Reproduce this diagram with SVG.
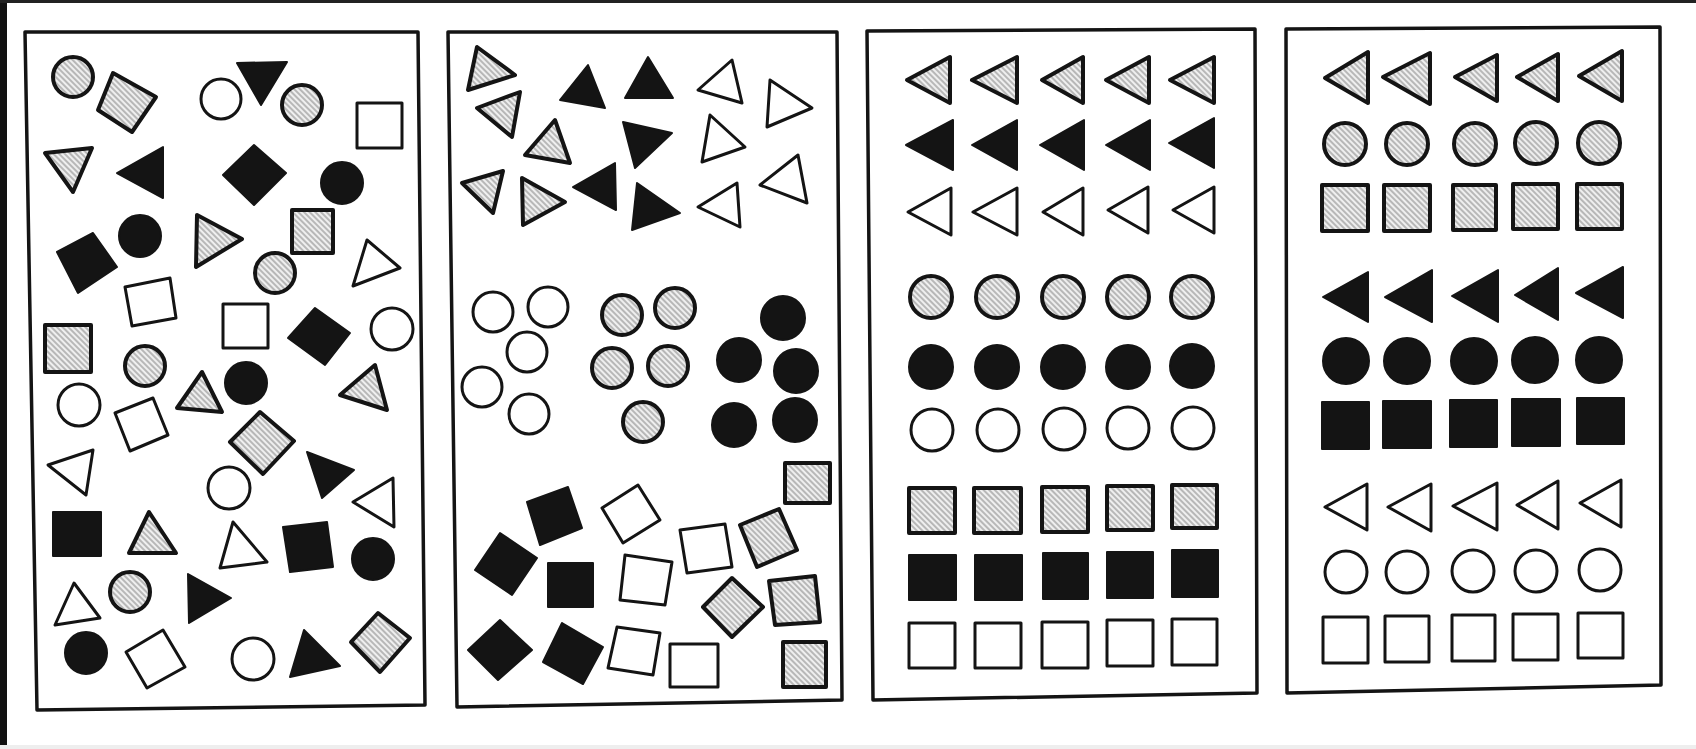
<svg xmlns="http://www.w3.org/2000/svg" width="1696" height="749" viewBox="0 0 1696 749">
<defs>
<pattern id="hp" width="4" height="4" patternUnits="userSpaceOnUse" patternTransform="rotate(-45)">
<rect width="4" height="4" fill="#efefef"/>
<line x1="1" y1="0" x2="1" y2="4" stroke="#9a9a9a" stroke-width="1.3"/>
</pattern>
</defs>
<style>
.h{fill:url(#hp);stroke:#141414;stroke-width:4;stroke-linejoin:round}
.b{fill:#141414;stroke:#141414;stroke-width:2;stroke-linejoin:round}
.o{fill:#fff;stroke:#141414;stroke-width:3;stroke-linejoin:round}
.frame{fill:none;stroke:#141414;stroke-width:3.5;stroke-linejoin:round}
</style>
<rect width="1696" height="749" fill="#fff"/>
<rect x="0" y="0" width="7" height="749" fill="#111"/>
<rect x="0" y="0" width="1696" height="3" fill="#222"/>
<rect x="0" y="745" width="1696" height="4" fill="#eee"/>

<g id="panel1">
<polygon class="frame" points="25,32 418,32 425,705 37,710"/>
<circle class="h" cx="73" cy="77" r="20"/>
<polygon class="h" points="113,73 156,97 132,132 98,110"/>
<circle class="o" cx="221" cy="99" r="20"/>
<polygon class="b" points="237,63 287,62 261,105"/>
<circle class="h" cx="302" cy="105" r="20"/>
<rect class="o" x="357" y="103" width="45" height="45"/>
<polygon class="h" points="45,153 92,148 73,192"/>
<polygon class="b" points="117,173 163,147 163,198"/>
<polygon class="b" points="254,145 286,173 254,205 223,175"/>
<circle class="b" cx="342" cy="183" r="21"/>
<circle class="b" cx="140" cy="236" r="21"/>
<polygon class="b" points="57,252 93,233 117,267 78,293"/>
<polygon class="h" points="197,215 242,239 196,267"/>
<rect class="h" x="292" y="210" width="41" height="43"/>
<circle class="h" cx="275" cy="273" r="20"/>
<polygon class="o" points="367,240 400,268 353,286"/>
<polygon class="o" points="125,287 170,278 176,318 132,326"/>
<rect class="o" x="223" y="304" width="45" height="44"/>
<polygon class="b" points="288,338 315,308 350,333 325,365"/>
<circle class="o" cx="392" cy="329" r="21"/>
<rect class="h" x="45" y="325" width="46" height="47"/>
<circle class="h" cx="145" cy="366" r="20"/>
<polygon class="h" points="202,372 222,412 177,408"/>
<circle class="b" cx="246" cy="383" r="21"/>
<polygon class="h" points="375,365 387,410 340,395"/>
<circle class="o" cx="79" cy="405" r="21"/>
<polygon class="o" points="115,413 153,398 168,435 130,451"/>
<polygon class="h" points="260,412 294,441 263,474 230,442"/>
<polygon class="o" points="48,465 93,450 86,495"/>
<polygon class="b" points="307,452 354,470 322,498"/>
<circle class="o" cx="229" cy="488" r="21"/>
<polygon class="o" points="353,502 393,478 394,527"/>
<rect class="b" x="53" y="512" width="48" height="44"/>
<polygon class="h" points="149,512 176,553 129,553"/>
<polygon class="o" points="233,522 267,562 220,568"/>
<polygon class="b" points="283,527 327,522 333,567 290,572"/>
<circle class="b" cx="373" cy="559" r="21"/>
<polygon class="o" points="74,583 100,618 55,625"/>
<circle class="h" cx="130" cy="592" r="20"/>
<polygon class="b" points="188,574 231,598 189,623"/>
<circle class="b" cx="86" cy="653" r="21"/>
<polygon class="o" points="126,652 163,630 185,667 147,688"/>
<circle class="o" cx="253" cy="659" r="21"/>
<polygon class="b" points="304,630 340,666 290,677"/>
<polygon class="h" points="378,613 410,638 380,672 351,642"/>
</g>

<g id="panel2">
<polygon class="frame" points="448,32 837,32 842,700 457,707"/>
<polygon class="h" points="477,47 515,75 468,90"/>
<polygon class="h" points="477,108 520,92 512,137"/>
<polygon class="b" points="588,65 605,108 560,100"/>
<polygon class="b" points="648,57 673,98 625,98"/>
<polygon class="o" points="732,60 742,103 698,90"/>
<polygon class="o" points="770,80 812,108 767,127"/>
<polygon class="h" points="555,120 570,163 525,155"/>
<polygon class="b" points="623,122 672,133 635,168"/>
<polygon class="o" points="710,115 745,147 702,162"/>
<polygon class="h" points="462,183 503,171 493,213"/>
<polygon class="h" points="522,178 565,202 523,225"/>
<polygon class="b" points="573,187 615,163 616,210"/>
<polygon class="b" points="637,183 680,213 632,230"/>
<polygon class="o" points="698,207 737,183 740,227"/>
<polygon class="o" points="760,185 798,155 807,203"/>
<circle class="o" cx="493" cy="312" r="20"/>
<circle class="o" cx="548" cy="307" r="20"/>
<circle class="o" cx="527" cy="352" r="20"/>
<circle class="o" cx="482" cy="387" r="20"/>
<circle class="o" cx="529" cy="414" r="20"/>
<circle class="h" cx="622" cy="315" r="20"/>
<circle class="h" cx="675" cy="308" r="20"/>
<circle class="h" cx="612" cy="368" r="20"/>
<circle class="h" cx="668" cy="366" r="20"/>
<circle class="h" cx="643" cy="422" r="20"/>
<circle class="b" cx="783" cy="318" r="22"/>
<circle class="b" cx="739" cy="360" r="22"/>
<circle class="b" cx="796" cy="371" r="22"/>
<circle class="b" cx="734" cy="425" r="22"/>
<circle class="b" cx="795" cy="420" r="22"/>
<rect class="h" x="785" y="463" width="45" height="40"/>
<polygon class="b" points="527,502 568,487 582,528 540,545"/>
<polygon class="o" points="602,508 638,485 660,520 623,543"/>
<polygon class="o" points="680,530 725,524 732,567 687,573"/>
<polygon class="h" points="740,525 779,509 797,550 757,567"/>
<polygon class="b" points="475,570 500,533 537,558 512,595"/>
<rect class="b" x="548" y="563" width="45" height="44"/>
<polygon class="o" points="625,555 672,562 665,605 620,600"/>
<polygon class="h" points="732,578 763,607 732,637 703,607"/>
<polygon class="h" points="769,581 815,576 820,622 775,625"/>
<polygon class="b" points="500,620 532,650 498,680 468,650"/>
<polygon class="b" points="562,623 603,647 583,684 543,662"/>
<polygon class="o" points="617,627 660,633 653,675 608,668"/>
<rect class="o" x="670" y="644" width="48" height="43"/>
<rect class="h" x="783" y="642" width="43" height="45"/>
</g>

<g id="panel3">
<polygon class="frame" points="867,31 1255,29 1257,693 873,700"/>
<polygon class="h" points="907,80 950,57 950,103"/>
<polygon class="h" points="972,80 1017,57 1017,103"/>
<polygon class="h" points="1042,80 1083,57 1083,103"/>
<polygon class="h" points="1106,80 1149,57 1149,103"/>
<polygon class="h" points="1170,80 1214,57 1214,103"/>
<polygon class="b" points="906,145 953,120 953,170"/>
<polygon class="b" points="972,145 1017,120 1017,170"/>
<polygon class="b" points="1040,145 1084,120 1084,170"/>
<polygon class="b" points="1106,145 1150,120 1150,170"/>
<polygon class="b" points="1169,143 1214,118 1214,168"/>
<polygon class="o" points="908,212 951,188 951,235"/>
<polygon class="o" points="973,212 1017,188 1017,235"/>
<polygon class="o" points="1043,212 1083,188 1083,235"/>
<polygon class="o" points="1108,210 1148,187 1148,233"/>
<polygon class="o" points="1173,210 1214,187 1214,233"/>
<circle class="h" cx="931" cy="297" r="21"/>
<circle class="h" cx="997" cy="297" r="21"/>
<circle class="h" cx="1063" cy="297" r="21"/>
<circle class="h" cx="1128" cy="297" r="21"/>
<circle class="h" cx="1192" cy="297" r="21"/>
<circle class="b" cx="931" cy="367" r="22"/>
<circle class="b" cx="997" cy="367" r="22"/>
<circle class="b" cx="1063" cy="367" r="22"/>
<circle class="b" cx="1128" cy="367" r="22"/>
<circle class="b" cx="1192" cy="366" r="22"/>
<circle class="o" cx="932" cy="430" r="21"/>
<circle class="o" cx="998" cy="430" r="21"/>
<circle class="o" cx="1064" cy="429" r="21"/>
<circle class="o" cx="1128" cy="428" r="21"/>
<circle class="o" cx="1193" cy="428" r="21"/>
<rect class="h" x="909" y="488" width="46" height="45"/>
<rect class="h" x="974" y="488" width="47" height="45"/>
<rect class="h" x="1042" y="487" width="46" height="45"/>
<rect class="h" x="1107" y="486" width="46" height="44"/>
<rect class="h" x="1172" y="485" width="45" height="43"/>
<rect class="b" x="909" y="555" width="47" height="45"/>
<rect class="b" x="975" y="555" width="47" height="45"/>
<rect class="b" x="1043" y="553" width="45" height="46"/>
<rect class="b" x="1107" y="552" width="46" height="46"/>
<rect class="b" x="1172" y="550" width="46" height="47"/>
<rect class="o" x="909" y="623" width="46" height="45"/>
<rect class="o" x="975" y="623" width="46" height="45"/>
<rect class="o" x="1042" y="622" width="46" height="46"/>
<rect class="o" x="1107" y="620" width="46" height="46"/>
<rect class="o" x="1172" y="619" width="45" height="46"/>
</g>

<g id="panel4">
<polygon class="frame" points="1286,29 1660,27 1661,685 1287,693"/>
<polygon class="h" points="1325,78 1368,52 1368,103"/>
<polygon class="h" points="1383,77 1430,53 1430,104"/>
<polygon class="h" points="1455,77 1497,55 1497,101"/>
<polygon class="h" points="1517,77 1558,54 1558,101"/>
<polygon class="h" points="1579,76 1622,51 1622,101"/>
<circle class="h" cx="1345" cy="144" r="21"/>
<circle class="h" cx="1407" cy="144" r="21"/>
<circle class="h" cx="1475" cy="144" r="21"/>
<circle class="h" cx="1536" cy="143" r="21"/>
<circle class="h" cx="1599" cy="143" r="21"/>
<rect class="h" x="1322" y="185" width="46" height="46"/>
<rect class="h" x="1384" y="185" width="46" height="46"/>
<rect class="h" x="1453" y="185" width="43" height="45"/>
<rect class="h" x="1513" y="184" width="45" height="45"/>
<rect class="h" x="1577" y="184" width="45" height="45"/>
<polygon class="b" points="1323,297 1368,272 1368,322"/>
<polygon class="b" points="1385,297 1432,270 1432,322"/>
<polygon class="b" points="1452,296 1498,270 1498,322"/>
<polygon class="b" points="1515,295 1558,268 1558,320"/>
<polygon class="b" points="1576,293 1623,267 1623,318"/>
<circle class="b" cx="1346" cy="361" r="23"/>
<circle class="b" cx="1407" cy="361" r="23"/>
<circle class="b" cx="1474" cy="361" r="23"/>
<circle class="b" cx="1535" cy="360" r="23"/>
<circle class="b" cx="1599" cy="360" r="23"/>
<rect class="b" x="1322" y="402" width="47" height="47"/>
<rect class="b" x="1383" y="401" width="48" height="47"/>
<rect class="b" x="1450" y="400" width="47" height="47"/>
<rect class="b" x="1512" y="399" width="48" height="47"/>
<rect class="b" x="1577" y="398" width="47" height="46"/>
<polygon class="o" points="1325,507 1367,484 1367,530"/>
<polygon class="o" points="1388,507 1431,484 1431,531"/>
<polygon class="o" points="1453,506 1497,483 1497,530"/>
<polygon class="o" points="1517,505 1558,481 1558,529"/>
<polygon class="o" points="1580,503 1621,480 1621,527"/>
<circle class="o" cx="1346" cy="572" r="21"/>
<circle class="o" cx="1407" cy="572" r="21"/>
<circle class="o" cx="1473" cy="571" r="21"/>
<circle class="o" cx="1536" cy="571" r="21"/>
<circle class="o" cx="1600" cy="570" r="21"/>
<rect class="o" x="1323" y="617" width="45" height="46"/>
<rect class="o" x="1385" y="616" width="44" height="46"/>
<rect class="o" x="1452" y="615" width="43" height="46"/>
<rect class="o" x="1513" y="614" width="45" height="46"/>
<rect class="o" x="1578" y="613" width="45" height="45"/>
</g>
</svg>
